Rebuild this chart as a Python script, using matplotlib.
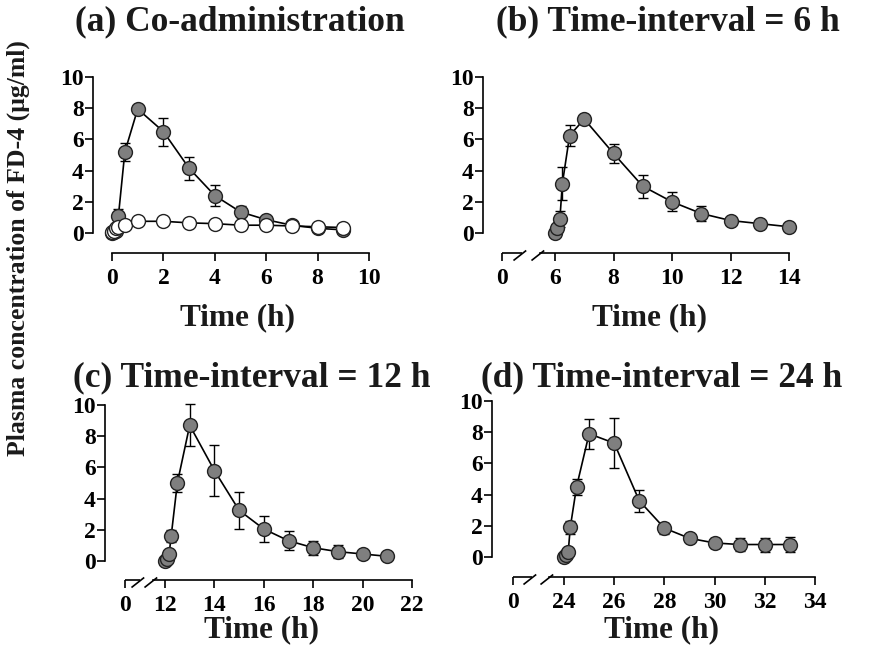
import matplotlib
matplotlib.use("Agg")
import matplotlib.pyplot as plt
from matplotlib.path import Path
from matplotlib.transforms import ScaledTranslation
import numpy as np

plt.rcParams['font.family'] = ['Liberation Serif', 'DejaVu Serif']
plt.rcParams['font.weight'] = 'bold'

# sampling times after dosing (h): 0, 5, 10, 15, 30 min, then hourly
dose_offsets = [0, 0.083, 0.167, 0.25, 0.5, 1, 2, 3, 4, 5, 6, 7, 8, 9]

# (a) co-administration
a_time = dose_offsets
a_enh_mean = [0, 0.05, 0.15, 1.1, 5.2, 7.95, 6.5, 4.15, 2.4, 1.35, 0.85, 0.5, 0.3, 0.2]
a_enh_sd = [0, 0, 0, 0.45, 0.6, 0.15, 0.9, 0.75, 0.65, 0.35, 0.2, 0.1, 0.1, 0.1]
a_ctrl_mean = [0.05, 0.15, 0.3, 0.4, 0.5, 0.75, 0.75, 0.65, 0.6, 0.5, 0.5, 0.45, 0.4, 0.35]

# (b) time-interval = 6 h
b_time = [6 + t for t in dose_offsets[:13]]
b_mean = [0, 0.3, 0.9, 3.15, 6.25, 7.3, 5.1, 3.0, 2.0, 1.25, 0.8, 0.6, 0.4]
b_sd = [0, 0.3, 0.5, 1.05, 0.7, 0.15, 0.6, 0.75, 0.6, 0.5, 0.25, 0.25, 0.15]

# (c) time-interval = 12 h
c_time = [12 + t for t in dose_offsets]
c_mean = [0, 0.15, 0.45, 1.6, 5.0, 8.7, 5.8, 3.25, 2.05, 1.3, 0.85, 0.6, 0.45, 0.3]
c_sd = [0, 0.1, 0.15, 0.4, 0.6, 1.35, 1.65, 1.2, 0.85, 0.6, 0.45, 0.4, 0.2, 0.15]

# (d) time-interval = 24 h
d_time = [24 + t for t in dose_offsets]
d_mean = [0, 0.1, 0.3, 1.9, 4.5, 7.9, 7.3, 3.6, 1.85, 1.2, 0.9, 0.8, 0.8, 0.8]
d_sd = [0, 0.1, 0.15, 0.4, 0.5, 0.95, 1.6, 0.7, 0.35, 0.2, 0.35, 0.4, 0.45, 0.5]

y_ticks = [0, 2, 4, 6, 8, 10]
a_xticks = [0, 2, 4, 6, 8, 10]
b_xticks = [6, 8, 10, 12, 14]
c_xticks = [12, 14, 16, 18, 20, 22]
d_xticks = [24, 26, 28, 30, 32, 34]

W, H = 874, 653
fig = plt.figure(figsize=(W / 100, H / 100), dpi=100)

GRAY = '#7f7f7f'
PX = 0.72  # points per pixel at dpi 100

# slash marker for the axis break
slash = Path([(-9, -7), (3.7, 3)], [Path.MOVETO, Path.LINETO])


def make_axes(x_zero, x_first, x_last, first, last, y0, y10, spine_x, axis_y, broken):
    # x_zero / x_first / x_last are pixel positions of "0", first tick and last tick
    ppu = (x_last - x_first) / (last - first)
    left_val = first - (x_first - x_zero) / ppu if broken else first
    ax = fig.add_axes([x_zero / W, 1 - y0 / H, (x_last - x_zero) / W, (y0 - y10) / H])
    ax.set_xlim(left_val, last)
    ax.set_ylim(0, 10)
    for s in ['top', 'right']:
        ax.spines[s].set_visible(False)
    ax.spines['left'].set_position(('outward', (x_zero - spine_x) * PX))
    ax.spines['bottom'].set_position(('outward', (axis_y - y0) * PX))
    ax.spines['left'].set_bounds(0, 10)
    for s in ['left', 'bottom']:
        ax.spines[s].set_linewidth(1.2)
    ax.set_yticks(y_ticks)
    ax.tick_params(axis='both', direction='out', length=5.5, width=1.2,
                   labelsize=17, pad=1.0)
    ax.tick_params(axis='x', pad=5)
    return ax, left_val


def draw_break(ax, left_val, first, axis_off_px):
    gap = first - left_val
    s1 = left_val + 0.37 * gap
    s2 = left_val + 0.71 * gap
    ax.spines['bottom'].set_bounds(s2, ax.get_xlim()[1])
    trans = ax.get_xaxis_transform() + ScaledTranslation(0, -axis_off_px * PX / 72, fig.dpi_scale_trans)
    ax.plot([left_val, s1], [0, 0], color='black', lw=1.2, transform=trans,
            clip_on=False, solid_capstyle='butt')
    ax.plot([s1, s2], [0, 0], linestyle='none', marker=slash, markersize=13,
            markeredgewidth=1.2, markeredgecolor='black', transform=trans, clip_on=False)


def series(ax, t, m, sd, face, z):
    ax.errorbar(t, m, yerr=sd, fmt='none', ecolor='black', elinewidth=1.0,
                capsize=3.5, capthick=1.0, zorder=z, clip_on=False)
    ax.plot(t, m, color='black', lw=1.2, marker='o', markersize=10,
            markerfacecolor=face, markeredgecolor='#222222', markeredgewidth=1.0,
            zorder=z + 0.5, clip_on=False)


# (a)
ax_a, _ = make_axes(112, 112, 369, 0, 10, 233, 77, 93, 253, broken=False)
ax_a.spines['bottom'].set_bounds(0, 10)
ax_a.set_xticks(a_xticks)
series(ax_a, a_time, a_enh_mean, a_enh_sd, GRAY, 3)
series(ax_a, a_time, a_ctrl_mean, [0] * len(a_time), 'white', 5)

# (b)
ax_b, lb = make_axes(502, 555, 789, 6, 14, 233, 77, 483, 253, broken=True)
ax_b.set_xticks([lb] + b_xticks, ['0'] + [str(v) for v in b_xticks])
draw_break(ax_b, lb, 6, 253 - 233)
series(ax_b, b_time, b_mean, b_sd, GRAY, 3)

# (c)
ax_c, lc = make_axes(125, 165, 412, 12, 22, 561, 405, 105, 580, broken=True)
ax_c.set_xticks([lc] + c_xticks, ['0'] + [str(v) for v in c_xticks])
draw_break(ax_c, lc, 12, 580 - 561)
series(ax_c, c_time, c_mean, c_sd, GRAY, 3)

# (d)
ax_d, ld = make_axes(513, 564, 815, 24, 34, 557, 401, 492, 577, broken=True)
ax_d.set_xticks([ld] + d_xticks, ['0'] + [str(v) for v in d_xticks])
draw_break(ax_d, ld, 24, 577 - 557)
series(ax_d, d_time, d_mean, d_sd, GRAY, 3)

for ax in [ax_a, ax_b, ax_c, ax_d]:
    for lab in ax.get_yticklabels() + ax.get_xticklabels():
        lab.set_fontweight('bold')

# titles and axis labels
title_kw = dict(fontsize=25.5, fontweight='bold', color='#1a1a1a', ha='center', va='center')
fig.text(240 / W, 1 - 22 / H, '(a) Co-administration', **title_kw)
fig.text(668 / W, 1 - 22 / H, '(b) Time-interval = 6 h', **title_kw)
fig.text(252 / W, 1 - 378 / H, '(c) Time-interval = 12 h', **title_kw)
fig.text(662 / W, 1 - 378 / H, '(d) Time-interval = 24 h', **title_kw)

xlab_kw = dict(fontsize=22.5, fontweight='bold', color='#1a1a1a', ha='center', va='center')
fig.text(237 / W, 1 - 318 / H, 'Time (h)', **xlab_kw)
fig.text(650 / W, 1 - 318 / H, 'Time (h)', **xlab_kw)
fig.text(262 / W, 1 - 630 / H, 'Time (h)', **xlab_kw)
fig.text(662 / W, 1 - 630 / H, 'Time (h)', **xlab_kw)

fig.text(18 / W, 1 - 248 / H, 'Plasma concentration of FD-4 (μg/ml)', rotation=90,
         fontsize=18.5, fontweight='bold', color='#1a1a1a', ha='center', va='center')

fig.savefig('out.png', dpi=100)
